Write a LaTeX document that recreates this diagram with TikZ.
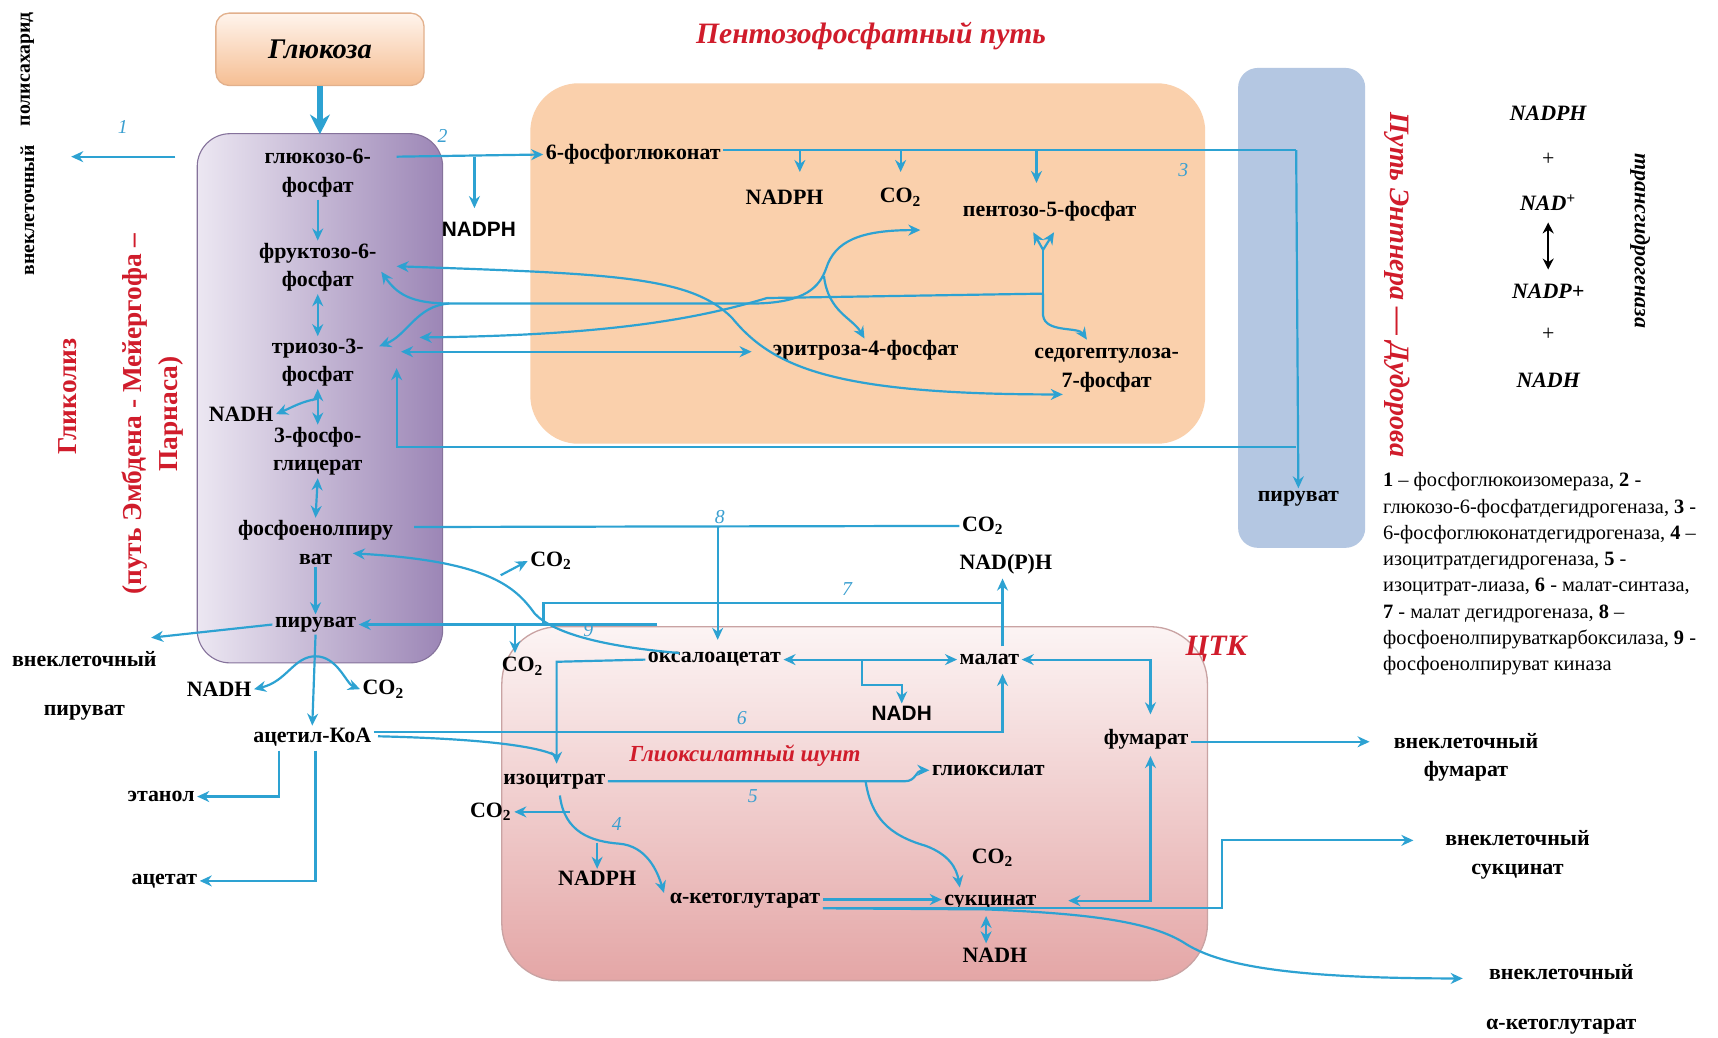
\documentclass[tikz,border=0pt]{standalone}
\usepackage{fontspec}
\setmainfont{Liberation Serif}
\newfontfamily\sansf{Liberation Sans}
\usetikzlibrary{arrows.meta}
\definecolor{ab}{HTML}{2DA2D2}
\definecolor{numc}{HTML}{3A9FD0}
\definecolor{redc}{HTML}{D01C2B}
\definecolor{gtop}{HTML}{FFF4EC}
\definecolor{gbot}{HTML}{F5BE93}
\definecolor{gbord}{HTML}{E2B08C}
\definecolor{glL}{HTML}{ECE7F2}
\definecolor{glR}{HTML}{9C86B6}
\definecolor{pppc}{HTML}{FAD0AC}
\definecolor{edc}{HTML}{B4C7E2}
\definecolor{tcat}{HTML}{FCF4F4}
\definecolor{tcab}{HTML}{E4A6A6}
\definecolor{tcad}{HTML}{C9A3A3}
\tikzset{
  lb/.style={font=\bfseries\fontsize{10}{13}\selectfont, align=center, inner sep=1pt, text=black},
  lbs/.style={font=\sansf\bfseries\fontsize{9.5}{12}\selectfont, inner sep=1pt, text=black},
  numl/.style={font=\itshape\fontsize{9}{10}\selectfont, text=numc, inner sep=0pt},
  ttl/.style={font=\bfseries\itshape\fontsize{13.5}{16}\selectfont, text=redc, inner sep=1pt},
  ttlu/.style={font=\bfseries\fontsize{12.5}{16.5}\selectfont, text=redc, inner sep=1pt, align=center},
  nadr/.style={font=\bfseries\itshape\fontsize{10}{12}\selectfont, inner sep=1pt},
  bline/.style={draw=ab, line width=1pt},
  barr/.style={bline, -{Stealth[length=5.5pt,width=5pt]}},
  bdarr/.style={bline, {Stealth[length=5.5pt,width=5pt]}-{Stealth[length=5.5pt,width=5pt]}},
}
\begin{document}
\begin{tikzpicture}[x=0.5pt,y=-0.5pt]
\useasboundingbox (0,0) rectangle (1568,947);
\fill[white] (0,0) rectangle (1568,947);

% ---------- boxes ----------
\path[rounded corners=15pt, left color=glL, right color=glR, draw=glR!85!black, line width=0.5pt] (180,122) rectangle (404,605);
\path[rounded corners=22pt, fill=pppc] (484,76) rectangle (1100,405);
\path[rounded corners=9pt, fill=edc] (1130,62) rectangle (1246,500);
\path[rounded corners=26pt, top color=tcat, bottom color=tcab, draw=tcad, line width=0.6pt] (458,572) rectangle (1102,895);
\node[rounded corners=6pt, top color=gtop, bottom color=gbot, draw=gbord, line width=0.6pt,
      minimum width=95pt, minimum height=33pt, font=\bfseries\itshape\fontsize{13}{15}\selectfont] (glc) at (292,45) {Глюкоза};

% ---------- titles ----------
\node[ttl] (tppp) at (795,33) {Пентозофосфатный путь};
\node[ttl] (ttca) at (1110,592) {ЦТК};
\node[ttl, font=\bfseries\itshape\fontsize{10.5}{12}\selectfont] (tglx) at (680,690) {Глиоксилатный шунт};
\node[ttl, rotate=-90, font=\bfseries\itshape\fontsize{12.8}{15}\selectfont] (ted) at (1275,260) {Путь Энтнера — Дудорова};
\node[ttlu, rotate=90] (tglyc) at (62,362) {Гликолиз};
\node[ttlu, rotate=90] (temp) at (139,378) {(путь Эмбдена - Мейергофа –\\Парнаса)};
\node[lb, rotate=90, font=\bfseries\fontsize{9}{11}\selectfont] (poly1) at (25,192) {внеклеточный};
\node[lb, rotate=90, font=\bfseries\fontsize{9}{11}\selectfont] (poly2) at (25,63) {полисахарид};
\node[lb, font=\bfseries\itshape\fontsize{10}{12}\selectfont, rotate=-90] (trh) at (1497,220) {трансгидрогеназа};

% ---------- right NAD column ----------
\node[nadr] (rnadph) at (1413,103) {NADPH};
\node[nadr, font=\fontsize{10}{12}\selectfont] (rp1) at (1413,145) {+};
\node[nadr] (rnad) at (1413,185) {NAD\textsuperscript{+}};
\node[nadr] (rnadp) at (1413,266) {NADP+};
\node[nadr, font=\fontsize{10}{12}\selectfont] (rp2) at (1413,305) {+};
\node[nadr] (rnadh) at (1413,347) {NADH};
\draw[line width=1.1pt, {Stealth[length=5pt,width=5pt]}-{Stealth[length=5pt,width=5pt]}] (rnad.south) ++(0,8) coordinate (ra) -- (1413,246) coordinate (rb);

% ---------- legend ----------
\node[anchor=north west, align=left, inner sep=0pt, font=\fontsize{9.3}{12}\selectfont] (leg) at (1262,431)
{\textbf{1} – фосфоглюкоизомераза, \textbf{2} -\\
глюкозо-6-фосфатдегидрогеназа, \textbf{3} -\\
6-фосфоглюконатдегидрогеназа, \textbf{4} –\\
изоцитратдегидрогеназа, \textbf{5} -\\
изоцитрат-лиаза, \textbf{6} - малат-синтаза,\\
\textbf{7} - малат дегидрогеназа, \textbf{8} –\\
фосфоенолпируваткарбоксилаза, \textbf{9} -\\
фосфоенолпируват киназа};

% ---------- metabolite labels ----------
\node[lb] (g6p) at (290,158) {глюкозо-6-\\фосфат};
\node[lb] (f6p) at (290,244) {фруктозо-6-\\фосфат};
\node[lb] (t3p) at (290,331) {триозо-3-\\фосфат};
\node[lb] (nadh1) at (220,378) {NADH};
\node[lb] (pg) at (290,412) {3-фосфо-\\глицерат};
\node[lb] (pep) at (288,495) {фосфоенолпиру\\ват};
\node[lb] (pyr) at (288,570) {пируват};
\node[lb, font=\bfseries\fontsize{10}{22}\selectfont] (expyr) at (77,626) {внеклеточный\\пируват};
\node[lb] (nadh2) at (200,629) {NADH};
\node[lb] (co2a) at (350,629) {CO\textsubscript{2}};
\node[lb] (acoa) at (285,673) {ацетил-КоА};
\node[lb] (eth) at (147,727) {этанол};
\node[lb] (ac) at (150,804) {ацетат};
\node[lbs] (nadph1) at (437,209) {NADPH};
\node[lb] (pgl) at (578,141) {6-фосфоглюконат};
\node[lb] (nadph2) at (716,180) {NADPH};
\node[lb] (co2b) at (822,180) {CO\textsubscript{2}};
\node[lb] (p5p) at (958,193) {пентозо-5-фосфат};
\node[lb] (e4p) at (790,320) {эритроза-4-фосфат};
\node[lb] (s7p) at (1010,338) {седогептулоза-\\7-фосфат};
\node[lb] (edpyr) at (1185,455) {пируват};
\node[lb] (co2c) at (897,480) {CO\textsubscript{2}};
\node[lb] (nadp) at (918,515) {NAD(P)H};
\node[lb] (co2d) at (503,512) {CO\textsubscript{2}};
\node[lb] (co2e) at (477,608) {CO\textsubscript{2}};
\node[lb] (oaa) at (652,602) {оксалоацетат};
\node[lb] (mal) at (903,602) {малат};
\node[lbs] (nadh3) at (823,651) {NADH};
\node[lb] (fum) at (1046,675) {фумарат};
\node[lb] (icit) at (506,713) {изоцитрат};
\node[lb] (glx) at (902,703) {глиоксилат};
\node[lb] (co2f) at (448,741) {CO\textsubscript{2}};
\node[lb] (nadph3) at (545,802) {NADPH};
\node[lb] (akg) at (680,822) {α-кетоглутарат};
\node[lb] (co2g) at (906,783) {CO\textsubscript{2}};
\node[lb] (suc) at (904,824) {сукцинат};
\node[lb] (nadh4) at (908,872) {NADH};
\node[lb] (exfum) at (1338,691) {внеклеточный\\фумарат};
\node[lb] (exsuc) at (1385,780) {внеклеточный\\сукцинат};
\node[lb, font=\bfseries\fontsize{10}{22.5}\selectfont] (exakg) at (1425,912) {внеклеточный\\α-кетоглутарат};

% ---------- numbers ----------
\node[numl] (n1) at (112,116) {1};
\node[numl] (n2) at (404,124) {2};
\node[numl] (n3) at (1080,155) {3};
\node[numl] (n8) at (657,472) {8};
\node[numl] (n7) at (773,538) {7};
\node[numl] (n9) at (537,575) {9};
\node[numl] (n6) at (677,655) {6};
\node[numl] (n5) at (687,727) {5};
\node[numl] (n4) at (563,752) {4};

% ---------- glycolysis connectors ----------
\draw[bline, line width=2.4pt, -{Stealth[length=9pt,width=9pt]}] (glc.south) -- ++(0,44) coordinate (glcend);
\draw[barr] (160,143) coordinate (p1s) -- (65,143) coordinate (p1e);
\draw[barr] (362,143) coordinate (p2s) -- (pgl.west);
\draw[barr] (433,143) coordinate (p2b) -- (433,190) coordinate (p2be);
\draw[barr] (g6p.south) -- (f6p.north);
\draw[bdarr] (f6p.south) -- (t3p.north);
\draw[bdarr] (t3p.south) -- (pg.north);
\draw[barr] (290,364) coordinate (pnadh) .. controls (276,366) and (266,372) .. (nadh1.east);
\draw[bdarr] (pg.south) -- (pep.north);
\draw[barr] (pep.south) -- (pyr.north);
\draw[barr] (pyr.west) -- (138,582) coordinate (expyrtip);
\draw[barr] (pyr.south) -- (acoa.north);
\draw[barr] (288,599) coordinate (pdh) .. controls (268,599) and (262,622) .. (nadh2.east);
\draw[barr] (pdh) .. controls (308,599) and (316,624) .. (co2a.west);
\draw[barr] (255,685) coordinate (ethb) |- (eth.east);
\draw[barr] (288,685) coordinate (acb) |- (ac.east);

% ---------- oxidative PPP / ED ----------
\draw[bline] (pgl.east |- 0,137) coordinate (ox0) -- (1183,137) coordinate (ox1);
\draw[barr] (ox1) -- (edpyr.north);
\draw[barr] (730,137) -- (730,157);
\draw[barr] (822,137) -- (822,157);
\draw[barr] (946,137) -- (946,167);
\draw[barr] (1183,408) coordinate (ed1) -- (362,408) coordinate (ed2) -- (362,336) coordinate (ed3);

% ---------- non-oxidative PPP ----------
\draw[bdarr] (362,243) coordinate (f6a) .. controls (560,250) and (630,252) .. (668,290)
   .. controls (705,335) and (760,360) .. (970,360) coordinate (s7a);
\draw[barr] (952,268) coordinate (yst) -- (700,272) .. controls (640,290) and (560,306) .. (383,308) coordinate (t3a);
\draw[bdarr] (366,321) coordinate (t3b) -- (686,321) coordinate (e4a);
\draw[bdarr] (348,248) coordinate (f6b) .. controls (362,268) and (375,277) .. (410,277) coordinate (br1)
   -- (690,277) .. controls (735,276) and (748,262) .. (754,245) .. controls (762,220) and (785,210) .. (840,210) coordinate (p5a);
\draw[barr] (br1) .. controls (380,279) and (372,306) .. (346,316) coordinate (t3c);
\draw[barr] (752,252) coordinate (br2) .. controls (756,285) and (778,290) .. (789,309) coordinate (e4b);
\draw[bline] (yst) -- (952,228) coordinate (yfork);
\draw[barr] (yfork) -- (943,212);
\draw[barr] (yfork) -- (962,212);
\draw[barr] (yst) -- (952,288) .. controls (954,304) and (984,298) .. (992,310) coordinate (s7b);

% ---------- PEP / OAA / malate ----------
\draw[bline] (378,481) coordinate (pepl) -- (co2c.west);
\draw[barr] (655,481) coordinate (p8) -- (655,584) coordinate (oaatop);
\draw[barr] (620,596) coordinate (oaal) .. controls (550,590) and (505,578) .. (488,560)
   .. controls (470,535) and (445,512) .. (322,505) coordinate (peptip);
\draw[barr] (457,525) coordinate (cb1) -- (co2d.west);
\draw[barr] (600,570) coordinate (p9) -- (pyr.east);
\draw[barr] (470,570) coordinate (p9b) -- (470,596);
\draw[barr] (915,590) coordinate (malt) -- (915,528) coordinate (nadpb);
\draw[bline] (915,550) -- (496,550) -- (496,570);
\draw[bdarr] (oaa.east) -- (mal.west);
\draw[barr] (787,603) coordinate (p7b) |- (823,625) -- (nadh3.north);
\draw[bdarr] (mal.east) -| (1050,652) coordinate (fumtop);
\draw[bdarr] (975,822) coordinate (sucr) -| (1050,690) coordinate (fumbot);
\draw[barr] (fum.east |- 0,677) -- (1250,677) coordinate (exfumtip);

% acetyl-CoA -> malate (6) and -> isocitrate
\draw[barr] (acoa.east |- 0,668) coordinate (ac6) -- (915,668) -- (915,615) coordinate (malb);
\draw[bline] (345,672) .. controls (430,674) and (490,680) .. (508,690);
\draw[barr] (oaa.west) -- (508,604) -- (508,697) coordinate (icittop);

% ---------- isocitrate, glyoxylate, succinate ----------
\draw[barr] (icit.east) -- (826,713) .. controls (836,713) and (836,703) .. (glx.west);
\draw[barr] (790,713) coordinate (p5b) .. controls (795,745) and (810,762) .. (845,772)
   .. controls (866,780) and (873,792) .. (876,810) coordinate (suctop);
\draw[barr] (511,726) coordinate (p4) .. controls (515,760) and (540,768) .. (565,770)
   .. controls (590,772) and (600,795) .. (606,815) coordinate (akgtip);
\draw[barr] (545,769) coordinate (p4b) -- (nadph3.north);
\draw[barr] (520,741) coordinate (p4c) -- (co2f.east);
\draw[barr] (akg.east |- 0,821) coordinate (ak1) -- (suc.west |- 0,821);
\draw[barr] (akg.east |- 0,829) coordinate (ak2) -- (1115,829) -- (1115,767) -- (1290,767) coordinate (exsuctip);
\draw[barr] (ak2) -- (900,830) .. controls (1000,834) and (1050,842) .. (1080,860)
   .. controls (1110,880) and (1170,893) .. (1335,893) coordinate (exakgtip);
\draw[bdarr] (900,836) -- (900,861);
\end{tikzpicture}
\end{document}
